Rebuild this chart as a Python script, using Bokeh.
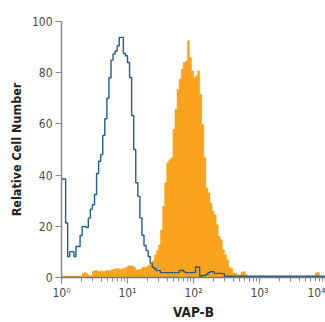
import numpy as np
from bokeh.plotting import figure
from bokeh.models import Range1d, FixedTicker, CustomJSTickFormatter
from bokeh.embed import file_html
from bokeh.resources import INLINE

# ---- data (128 channels, 32 per decade, from 10^0 to 10^4) ----
channels_per_decade = 32

isotype_control = [
    38.5, 38.5, 21.3, 8.2, 10.1, 10.1, 8.2, 12.1, 12.1, 16.4,
    19.9, 19.9, 19.5, 23.2, 26.7, 28.4, 32.4, 40.6, 45.4, 48.0,
    55.5, 62.0, 70.0, 78.0, 84.9, 87.3, 88.5, 90.5, 93.8, 93.8,
    87.5, 86.6, 84.0, 78.1, 63.3, 50.0, 37.0, 31.7, 23.3, 16.5,
    12.5, 10.5, 8.2, 5.6, 4.0, 3.3, 2.7, 2.7, 1.9, 1.9,
    1.9, 1.9, 1.9, 1.9, 1.9, 1.9, 1.9, 2.7, 2.9, 2.3,
    1.9, 1.9, 1.9, 1.9, 2.0, 4.2, 4.0, 0.5, 0.8, 0.8,
    1.2, 1.9, 2.3, 2.3, 1.6, 1.6, 1.6, 1.6, 1.5, 0.5,
    0.5, 0.5, 0.5, 0.5, 0.5, 0.5, 0.5, 0.5, 0.5, 0.5,
    0.5, 0.5, 0.5, 0.5, 0.5, 0.5, 0.5, 0.5, 0.5, 0.5,
    0.5, 0.5, 0.5, 0.5, 0.5, 0.5, 0.5, 0.5, 0.5, 0.5,
    0.5, 0.5, 0.5, 0.5, 0.5, 0.5, 0.5, 0.5, 0.5, 0.5,
    0.5, 0.5, 0.5, 0.5, 0.5, 0.5, 0.5, 0.5,
]

vapb_antibody = [
    0.6, 0.6, 0.6, 0.6, 0.6, 0.6, 0.6, 0.6, 0.6, 0.6,
    1.6, 1.9, 1.6, 0.8, 0.8, 2.5, 2.7, 2.5, 2.3, 2.5,
    2.3, 2.5, 2.8, 2.6, 3.0, 3.2, 3.3, 3.5, 3.0, 3.4,
    3.6, 4.0, 4.5, 4.5, 4.5, 3.8, 3.0, 3.0, 3.2, 4.0,
    4.0, 4.2, 4.9, 5.2, 6.5, 8.8, 10.5, 12.7, 18.6, 27.8,
    37.0, 44.8, 46.0, 46.7, 58.0, 65.7, 73.5, 77.5, 81.4, 84.0,
    84.6, 92.5, 86.0, 80.7, 78.1, 78.7, 80.7, 71.6, 59.8, 46.9,
    35.0, 33.0, 29.1, 26.0, 24.5, 20.6, 16.0, 14.7, 10.8, 9.0,
    6.9, 4.0, 3.6, 1.8, 1.6, 1.0, 1.0, 2.0, 2.3, 1.2,
    0.5, 0.5, 0.5, 0.5, 0.5, 0.5, 0.5, 0.5, 0.5, 0.5,
    0.5, 0.5, 0.5, 0.5, 0.5, 0.5, 0.5, 0.5, 0.5, 0.5,
    0.5, 0.5, 0.5, 0.5, 0.5, 0.5, 0.5, 0.5, 0.5, 0.5,
    0.5, 0.5, 0.5, 1.8, 2.0, 0.5, 0.5, 0.5,
]

y_ticks = [0, 20, 40, 60, 80, 100]
x_ticks = [1, 10, 100, 1000, 10000]
x_tick_labels = ["10\u2070", "10\u00b9", "10\u00b2", "10\u00b3", "10\u2074"]
x_label = "VAP-B"
y_label = "Relative Cell Number"

# ---- geometry from data ----
n = len(vapb_antibody)
edges = 10.0 ** (np.arange(n + 1) / channels_per_decade)

def step_coords(vals):
    xs = np.repeat(edges, 2)[1:-1]
    ys = np.repeat(np.asarray(vals, dtype=float), 2)
    return xs, ys

ox, oy = step_coords(vapb_antibody)
px = np.concatenate([[edges[0]], ox, [edges[-1]]])
py = np.concatenate([[0.0], oy, [0.0]])
bx, by = step_coords(isotype_control)

FONT = "'DejaVu Sans Condensed', 'Liberation Sans', sans-serif"

p = figure(width=325, height=322, x_axis_type="log",
           x_range=Range1d(1, 10000), y_range=Range1d(0, 100),
           output_backend="svg", toolbar_location=None,
           min_border_left=61, min_border_right=0,
           min_border_top=21, min_border_bottom=44)
p.grid.visible = False
p.outline_line_color = None
p.background_fill_color = "white"
p.border_fill_color = "white"

p.patch(px, py, fill_color="#FBA31C", line_color="#FBA31C", line_width=0.5)
p.line(bx, by, line_color="#1F5E8E", line_width=1.4)

# y axis
ya = p.yaxis[0]
ya.ticker = FixedTicker(ticks=y_ticks)
ya.minor_tick_line_color = None
ya.axis_line_color = "#8A8A8A"
ya.axis_line_width = 1.5
ya.major_tick_line_color = "#8A8A8A"
ya.major_tick_line_width = 1.2
ya.major_tick_in = 0
ya.major_tick_out = 6
ya.major_label_standoff = 3
ya.major_label_text_font = FONT
ya.major_label_text_font_size = "12px"
ya.major_label_text_color = "#4A4A4A"
ya.axis_label = y_label
ya.axis_label_text_font = FONT
ya.axis_label_text_font_style = "bold"
ya.axis_label_text_font_size = "12.5px"
ya.axis_label_text_color = "#222222"
ya.axis_label_standoff = 5

# x axis
xa = p.xaxis[0]
minor = [m * 10 ** d for d in range(4) for m in range(2, 10)]
xa.ticker = FixedTicker(ticks=x_ticks, minor_ticks=minor)
xa.formatter = CustomJSTickFormatter(args=dict(labels=x_tick_labels),
                                     code="return labels[Math.round(Math.log10(tick))];")
xa.axis_line_color = "#7A7A7A"
xa.axis_line_width = 1.5
xa.major_tick_line_color = "#8A8A8A"
xa.major_tick_line_width = 1.2
xa.minor_tick_line_color = "#8A8A8A"
xa.major_tick_in = 0
xa.major_tick_out = 6
xa.minor_tick_in = 0
xa.minor_tick_out = 4
xa.major_label_standoff = 2
xa.major_label_text_font = FONT
xa.major_label_text_font_size = "12px"
xa.major_label_text_color = "#4A4A4A"
xa.axis_label = x_label
xa.axis_label_text_font = FONT
xa.axis_label_text_font_style = "bold"
xa.axis_label_text_font_size = "13.5px"
xa.axis_label_text_color = "#222222"
xa.axis_label_standoff = 1

open("out.html", "w").write(file_html(p, INLINE))
